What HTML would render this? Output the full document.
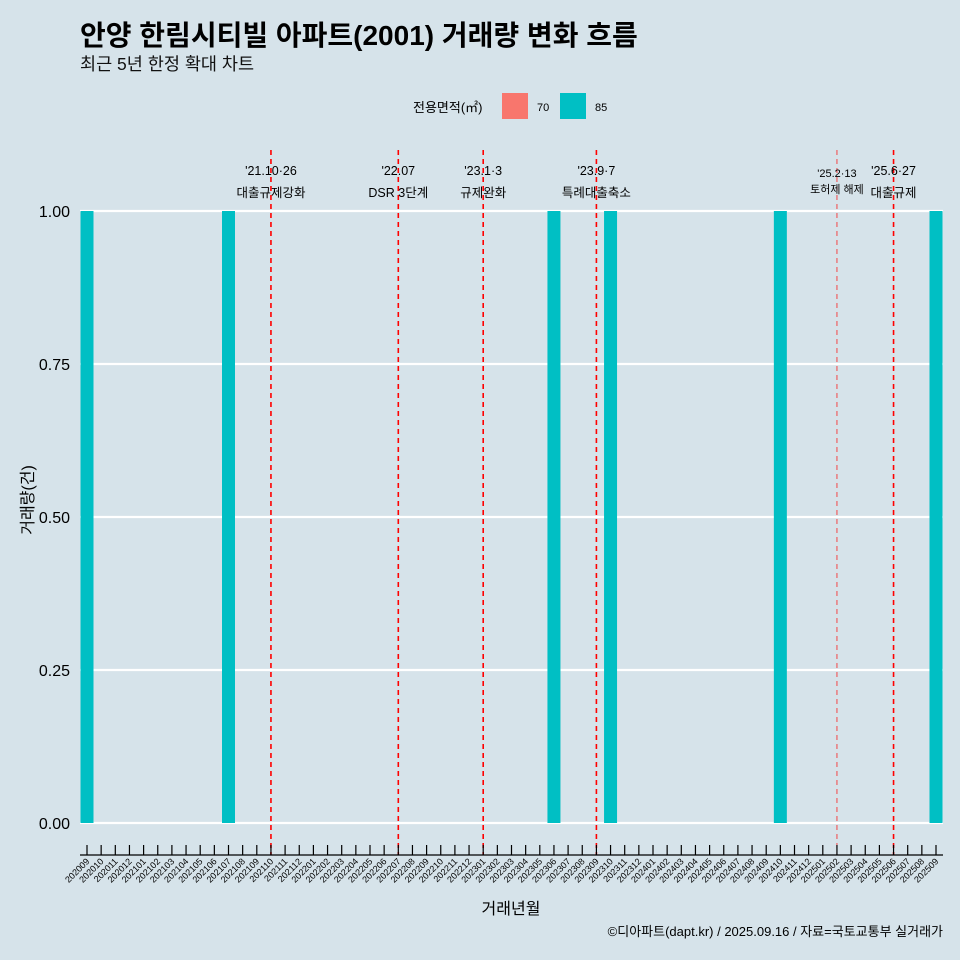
<!DOCTYPE html>
<html><head><meta charset="utf-8"><style>
body{margin:0;background:#d6e3ea;}
svg{display:block;font-family:"Liberation Sans","Noto Sans CJK KR",sans-serif;}
</style></head><body>
<svg id="c" width="960" height="960">
<rect width="960" height="960" fill="#d6e3ea"/>
<text x="80" y="45" font-size="28" font-weight="bold" fill="#000">안양 한림시티빌 아파트(2001) 거래량 변화 흐름</text>
<text x="80" y="70" font-size="17.5" fill="#111">최근 5년 한정 확대 차트</text>
<g>
<text x="413" y="112" font-size="13">전용면적(㎡)</text>
<rect x="502" y="93" width="26" height="26" fill="#f8766d"/>
<text x="537" y="111" font-size="11">70</text>
<rect x="560" y="93" width="26" height="26" fill="#00bfc4"/>
<text x="595" y="111" font-size="11">85</text>
</g>
<g id="grid"></g><g id="bars"></g><g id="vlines"></g><g id="axes"></g>
<text x="0" y="0" transform="translate(33,500) rotate(-90)" text-anchor="middle" font-size="16">거래량(건)</text>
<text x="511" y="914" text-anchor="middle" font-size="16">거래년월</text>
<text x="943" y="936" text-anchor="end" font-size="13">©디아파트(dapt.kr) / 2025.09.16 / 자료=국토교통부 실거래가</text>
</svg>
<script>
const months=[];
for(let y=2020,m=9;y*100+m<=202509;){months.push(''+y+(m<10?'0':'')+m);m++;if(m>12){m=1;y++;}}
const barMonths=['202009','202107','202306','202310','202410','202509'];
const barValues=[1,1,1,1,1,1];
const yTicks=[0,0.25,0.5,0.75,1];
const yTickLabels=['0.00','0.25','0.50','0.75','1.00'];
const eventMonths=['202110','202207','202301','202309','202502','202506'];
const eventLabel1=["'21.10·26","'22.07","'23.1·3","'23.9·7","'25.2·13","'25.6·27"];
const eventLabel2=['대출규제강화','DSR 3단계','규제완화','특례대출축소','토허제 해제','대출규제'];
const ns='http://www.w3.org/2000/svg';
const X=i=>87+i*(936-87)/60;
const Y=v=>823-v*(823-211);
function mk(p,t,a){const e=document.createElementNS(ns,t);for(const k in a)e.setAttribute(k,a[k]);document.getElementById(p).appendChild(e);return e;}
yTicks.forEach((v,i)=>{
 let l=mk('grid','line',{x1:80,x2:943,y1:Y(v),y2:Y(v),stroke:'#fff','stroke-width':2.2});
 
 
 let t=mk('axes','text',{x:70,y:Y(v)+6,'text-anchor':'end','font-size':16});
 t.textContent=yTickLabels[i];
 
 
});
barMonths.forEach((m,i)=>{
 const xi=months.indexOf(m);
 let r=mk('bars','rect',{x:X(xi)-6.5,y:Y(barValues[i]),width:13,height:Y(0)-Y(barValues[i]),fill:'#00bfc4'});
 
 
});
eventMonths.forEach((m,i)=>{
 const x=X(months.indexOf(m));
 const thin=m==='202502';
 let l=mk('vlines','line',{x1:x,x2:x,y1:150,y2:855,stroke:'#ff0000','stroke-width':thin?1:1.6,'stroke-dasharray':'5,4','stroke-opacity':thin?0.7:1});
 
 
 const fs=thin?11:12.5;
 let t1=mk('vlines','text',{x:x,y:thin?177:175,'text-anchor':'middle','font-size':fs});
 t1.textContent=eventLabel1[i];
 
 
 let t2=mk('vlines','text',{x:x,y:thin?193:197,'text-anchor':'middle','font-size':fs});
 t2.textContent=eventLabel2[i];
 
 
});
let ax=mk('axes','line',{x1:80,x2:943,y1:855,y2:855,stroke:'#000','stroke-width':1.2});


months.forEach((m,i)=>{
 const x=X(i);
 let tk=mk('axes','line',{x1:x,x2:x,y1:845,y2:855,stroke:'#000','stroke-width':1.2});
 
 
 let t=mk('axes','text',{x:x+3,y:862,'text-anchor':'end','font-size':9,transform:`rotate(-45 ${x+3} 862)`});
 t.textContent=m;
 
 
});
</script>
</body></html>
